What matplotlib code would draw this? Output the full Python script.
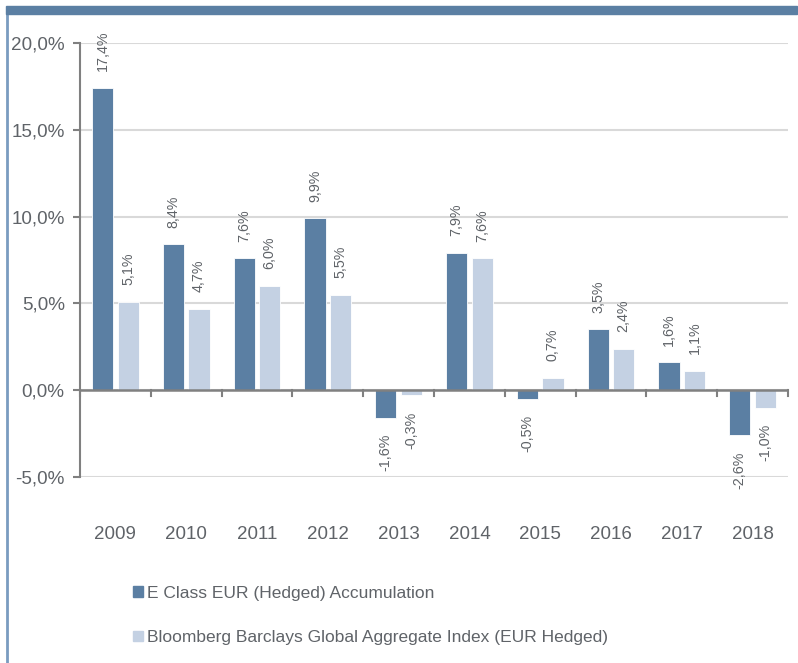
import numpy as np
import matplotlib.pyplot as plt
from matplotlib.patches import Rectangle
from matplotlib.lines import Line2D

years = ['2009', '2010', '2011', '2012', '2013', '2014', '2015', '2016', '2017', '2018']
fondo = [17.4, 8.4, 7.6, 9.9, -1.6, 7.9, -0.5, 3.5, 1.6, -2.6]
indice = [5.1, 4.7, 6.0, 5.5, -0.3, 7.6, 0.7, 2.4, 1.1, -1.0]
nombres = ['E Class EUR (Hedged) Accumulation',
           'Bloomberg Barclays Global Aggregate Index (EUR Hedged)']
yticks = [-5, 0, 5, 10, 15, 20]

azul = '#5b7fa3'
celeste = '#c4d1e3'
gris = '#5f6368'

plt.rcParams['font.family'] = ['Liberation Sans', 'DejaVu Sans']

fig = plt.figure(figsize=(7.98, 6.63), dpi=100)
ax = fig.add_axes([80 / 798, 1 - 477 / 663, 708 / 798, 434 / 663])

x = np.arange(len(years))
ancho = 0.3
b1 = ax.bar(x - 0.18, fondo, ancho, color=azul, edgecolor='white', linewidth=0.6, zorder=3)
b2 = ax.bar(x + 0.18, indice, ancho, color=celeste, edgecolor='white', linewidth=0.6, zorder=3)

# etiquetas rotadas encima/debajo de cada barra
for barras, valores in ((b1, fondo), (b2, indice)):
    for b, v in zip(barras, valores):
        xc = b.get_x() + b.get_width() / 2
        txt = f'{v:.1f}%'.replace('.', ',')
        if v >= 0:
            ax.annotate(txt, (xc, v), xytext=(0, 12), textcoords='offset points',
                        rotation=90, ha='center', va='bottom', fontsize=10.3,
                        color=gris, annotation_clip=False)
        else:
            ax.annotate(txt, (xc, v), xytext=(0, -11.5), textcoords='offset points',
                        rotation=90, ha='center', va='top', fontsize=10.3,
                        color=gris, annotation_clip=False)

ax.set_xlim(-0.5, len(years) - 0.5)
ax.set_ylim(-5, 20)
ax.set_yticks(yticks)
ax.set_yticklabels([f'{t:.1f}%'.replace('.', ',') for t in yticks], fontsize=13.6, color=gris)
ax.yaxis.grid(True, color='#d9d9d9', linewidth=1.5, zorder=0)
ax.set_axisbelow(True)

# eje x en el cero con marcas entre categorias
ax.axhline(0, color='#808080', linewidth=1.8, zorder=4)
ax.set_xticks(x)
ax.set_xticklabels(years, fontsize=13.5, color=gris)
ax.tick_params(axis='x', length=0, pad=35)
for i in range(len(years) + 1):
    ax.plot([i - 0.5, i - 0.5], [0, -0.35], color='#808080', linewidth=1.5, zorder=4, clip_on=False)
ax.tick_params(axis='y', length=5, color='#808080', width=1.5, pad=6)

for s in ['top', 'right', 'bottom']:
    ax.spines[s].set_visible(False)
ax.spines['left'].set_color('#808080')
ax.spines['left'].set_linewidth(1.5)

# leyenda
handles = [Rectangle((0, 0), 1, 1, color=azul), Rectangle((0, 0), 1, 1, color=celeste)]
fig.legend(handles, nombres, loc='upper left', bbox_to_anchor=(117 / 798, 1 - 570 / 663),
           frameon=False, fontsize=12.5, labelcolor=gris, handlelength=0.58,
           handleheight=0.58, handletextpad=0.25, labelspacing=1.7)

# marco azul
fig.add_artist(Rectangle((6 / 798, 1 - 14 / 663), 791 / 798, 8 / 663,
                         transform=fig.transFigure, color=azul, zorder=10))
fig.add_artist(Line2D([6.5 / 798, 6.5 / 798], [0, 1 - 14 / 663],
                      transform=fig.transFigure, color='#7a9cc0', linewidth=2))

fig.savefig('out.png', dpi=100)
